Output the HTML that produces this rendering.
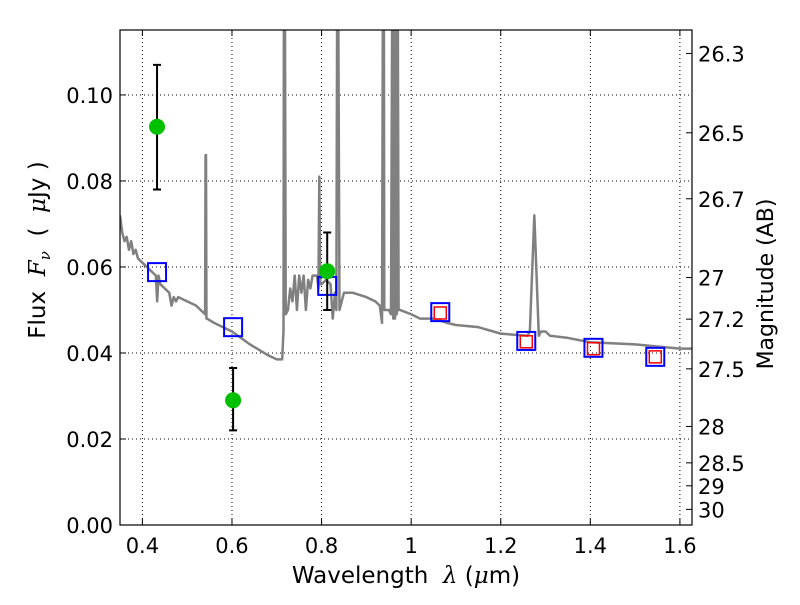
<!DOCTYPE html>
<html><head><meta charset="utf-8"><style>
body{margin:0;background:#fff}
svg text{font-family:"DejaVu Sans","Liberation Sans",sans-serif;fill:#000;white-space:pre}
</style></head><body>
<svg id="chart" width="800" height="600" xmlns="http://www.w3.org/2000/svg"></svg>
<script>
const xTicks=[0.4,0.6,0.8,1,1.2,1.4,1.6];
const xTickLabels=["0.4","0.6","0.8","1","1.2","1.4","1.6"];
const yTicks=[0,0.02,0.04,0.06,0.08,0.10];
const yTickLabels=["0.00","0.02","0.04","0.06","0.08","0.10"];
const magTicks=[26.3,26.5,26.7,27,27.2,27.5,28,28.5,29,30];
const specWave=[0.35,0.355,0.36,0.365,0.37,0.375,0.38,0.385,0.39,0.40,0.41,0.42,0.43,0.433,0.436,0.44,0.45,0.46,0.465,0.47,0.475,0.48,0.50,0.52,0.54,0.541,0.542,0.543,0.544,0.56,0.60,0.64,0.68,0.70,0.712,0.715,0.716,0.718,0.72,0.725,0.73,0.735,0.74,0.745,0.75,0.755,0.76,0.765,0.77,0.775,0.78,0.79,0.793,0.795,0.797,0.80,0.81,0.82,0.825,0.83,0.833,0.835,0.837,0.84,0.85,0.87,0.90,0.92,0.93,0.935,0.937,0.939,0.94,0.95,0.955,0.958,0.96,0.962,0.964,0.966,0.968,0.97,0.972,0.975,1.0,1.02,1.05,1.08,1.1,1.15,1.2,1.26,1.265,1.275,1.285,1.29,1.3,1.31,1.35,1.4,1.5,1.55,1.6,1.627];
const specFlux=[0.072,0.068,0.066,0.067,0.064,0.066,0.063,0.064,0.062,0.061,0.060,0.059,0.058,0.052,0.058,0.056,0.055,0.054,0.051,0.053,0.052,0.053,0.052,0.051,0.049,0.086,0.086,0.048,0.048,0.047,0.045,0.042,0.0395,0.0385,0.0385,0.045,0.13,0.13,0.049,0.05,0.055,0.052,0.058,0.050,0.058,0.054,0.058,0.050,0.057,0.055,0.058,0.058,0.055,0.081,0.056,0.056,0.057,0.056,0.048,0.054,0.05,0.13,0.13,0.050,0.054,0.054,0.053,0.052,0.051,0.047,0.13,0.13,0.050,0.050,0.049,0.13,0.048,0.13,0.048,0.13,0.049,0.13,0.050,0.050,0.049,0.048,0.048,0.047,0.0465,0.046,0.0445,0.044,0.045,0.072,0.044,0.045,0.045,0.044,0.0435,0.0425,0.042,0.0415,0.041,0.041];
const photWave=[0.4327,0.6025,0.8126];
const photFlux=[0.0926,0.029,0.059];
const photErrLo=[0.078,0.022,0.050];
const photErrHi=[0.107,0.0365,0.068];
const modelWave=[0.4327,0.6025,0.8126,1.065,1.257,1.407,1.545];
const modelFlux=[0.0588,0.046,0.0556,0.0495,0.0428,0.0412,0.0391];
const nirWave=[1.065,1.257,1.407,1.545];
const nirFlux=[0.0493,0.0426,0.0410,0.0391];

const L=120,R=692,T=30,B=525,X0=0.35,X1=1.627,Y0=0,Y1=0.1151;
const sx=v=>L+(v-X0)/(X1-X0)*(R-L);
const sy=v=>B-(v-Y0)/(Y1-Y0)*(B-T);
const svg=document.getElementById('chart');
const NS="http://www.w3.org/2000/svg";
function mk(t,a,p){const e=document.createElementNS(NS,t);for(const k in a)e.setAttribute(k,a[k]);(p||svg).appendChild(e);return e;}
const defs=mk('defs',{});const cp=mk('clipPath',{id:'clip'},defs);mk('rect',{x:L,y:T,width:R-L,height:B-T},cp);

xTicks.forEach((v,i)=>{
 const g=mk('line',{x1:sx(v),x2:sx(v),y1:T,y2:B,stroke:'#000','stroke-width':1,'stroke-dasharray':'1,3'});
 
 mk('line',{x1:sx(v),x2:sx(v),y1:B,y2:B-6,stroke:'#000'});mk('line',{x1:sx(v),x2:sx(v),y1:T,y2:T+6,stroke:'#000'});
 const t=mk('text',{x:sx(v),y:B+28,'text-anchor':'middle','font-size':21});t.textContent=xTickLabels[i];
 
});
yTicks.forEach((v,i)=>{
 const g=mk('line',{x1:L,x2:R,y1:sy(v),y2:sy(v),stroke:'#000','stroke-width':1,'stroke-dasharray':'1,3'});
 
 mk('line',{x1:L,x2:L+6,y1:sy(v),y2:sy(v),stroke:'#000'});
 const t=mk('text',{x:L-7,y:sy(v)+8,'text-anchor':'end','font-size':21});t.textContent=yTickLabels[i];
 
});
magTicks.forEach(m=>{
 const f=Math.pow(10,(23.9-m)/2.5);const y=sy(f);
 mk('line',{x1:R,x2:R-6,y1:y,y2:y,stroke:'#000'});
 const t=mk('text',{x:R+6,y:y+8,'font-size':21});t.textContent=String(m);
 
});

const g=mk('g',{'clip-path':'url(#clip)'});
const sp=mk('polyline',{points:specWave.map((w,i)=>sx(w)+','+sy(specFlux[i])).join(' '),fill:'none',stroke:'#808080','stroke-width':2.5,'stroke-linejoin':'round'},g);


modelWave.forEach((w,i)=>{
 const r=mk('rect',{x:sx(w)-9,y:sy(modelFlux[i])-9,width:18,height:18,fill:'none',stroke:'#0000ff','stroke-width':2},g);
 
});
nirWave.forEach((w,i)=>{
 const r=mk('rect',{x:sx(w)-6,y:sy(nirFlux[i])-6,width:12,height:12,fill:'none',stroke:'#ff0000','stroke-width':1.5},g);
 
});
photWave.forEach((w,i)=>{
 const x=sx(w);
 const e=mk('path',{d:`M${x},${sy(photErrLo[i])}V${sy(photErrHi[i])}M${x-4},${sy(photErrLo[i])}h8M${x-4},${sy(photErrHi[i])}h8`,stroke:'#000','stroke-width':2,fill:'none'},g);
 
 const c=mk('circle',{cx:x,cy:sy(photFlux[i]),r:8,fill:'#00c000'},g);
 
});

const fr=mk('rect',{x:L,y:T,width:R-L,height:B-T,fill:'none',stroke:'#000','stroke-width':1.2});


const xl=mk('text',{x:406,y:583,'text-anchor':'middle','font-size':23});
xl.innerHTML='Wavelength&#160;&#160;<tspan font-style="italic" font-family="DejaVu Serif,serif">λ</tspan> (<tspan font-style="italic" font-family="DejaVu Serif,serif">μ</tspan>m)';

const yl=mk('text',{x:0,y:0,'text-anchor':'middle','font-size':23,transform:'translate(45,250) rotate(-90)'});
yl.innerHTML='Flux&#160;&#160;<tspan font-style="italic" font-family="DejaVu Serif,serif">F</tspan><tspan font-size="15" dy="5" font-style="italic" font-family="DejaVu Serif,serif">ν</tspan><tspan dy="-5">&#160;&#160;(&#160;&#160;</tspan><tspan font-style="italic" font-family="DejaVu Serif,serif">μ</tspan>Jy )';

const ml=mk('text',{x:0,y:0,'text-anchor':'middle','font-size':22,transform:'translate(773,284) rotate(-90)'});
ml.textContent='Magnitude (AB)';

</script>
</body></html>
